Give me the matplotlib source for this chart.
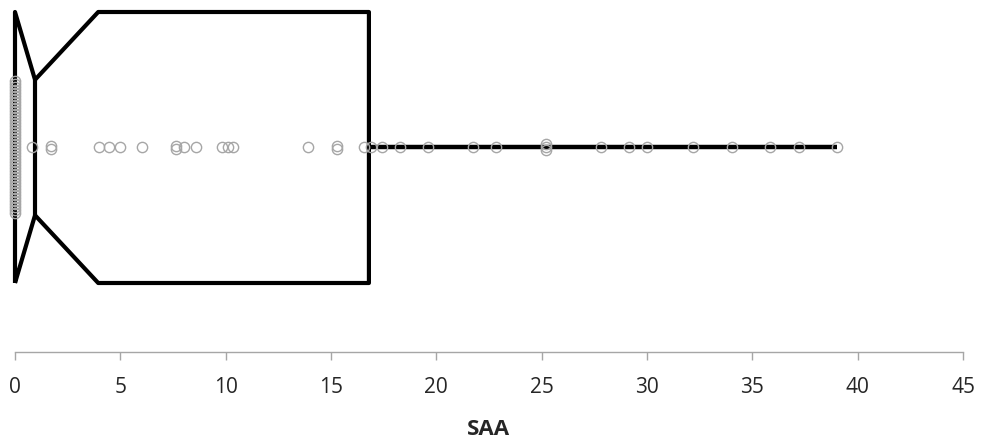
import matplotlib
matplotlib.use("Agg")
import matplotlib.pyplot as plt
import numpy as np

plt.rcParams['font.family'] = ['Open Sans', 'DejaVu Sans']

#   values
zero_count = 45
saa_values = [0.0] * zero_count + [
    0.82, 1.71, 1.71, 3.99, 4.46, 4.98, 6.01, 7.63, 7.63, 8.04, 8.57,
    9.84, 10.12, 10.36, 13.92, 15.3, 15.3, 16.58, 16.9, 17.4, 18.27, 19.6,
    21.75, 22.83, 25.19, 25.19, 25.19, 27.81, 29.16, 29.98, 32.19, 34.04,
    35.86, 37.21, 39.0]

box_stats = {'q1': 0.0, 'med': 0.95, 'q3': 16.8,
             'cilo': 0.0, 'cihi': 3.95,
             'whislo': 0.0, 'whishi': 39.0, 'fliers': []}

x_ticks = [0, 5, 10, 15, 20, 25, 30, 35, 40, 45]
x_label = 'SAA'

#   Figure Setting
fig = plt.figure(figsize=(9.81, 4.41), dpi=100)
ax = fig.add_axes([15 / 981, 89 / 441, 948 / 981, 352 / 441])

box_px = 271.0                      # box height in pixels (widths = 1)
ax.set_ylim(1 - 204.5 / box_px, 1 + 147.5 / box_px)
ax.set_xlim(0, 45)

parts = ax.bxp([box_stats], positions=[1], widths=1, shownotches=True,
               showcaps=False, showfliers=False, orientation='horizontal',
               boxprops=dict(color='black', linewidth=3),
               whiskerprops=dict(color='black', linewidth=3.2),
               medianprops=dict(color='black', linewidth=3))
for key in ('boxes', 'whiskers', 'medians'):
    for art in parts[key]:
        art.set_clip_on(False)
        art.set_solid_capstyle('butt')

#   stack repeated values a little so they stay visible
vals = np.array(saa_values)
step = 3.0 / box_px
ys = np.ones_like(vals)
for v in np.unique(vals):
    idx = np.where(vals == v)[0]
    n = idx.size
    ys[idx] = 1 + (np.arange(n) - (n - 1) / 2.0) * step
ax.plot(vals, ys, linestyle='none', marker='o', markersize=7.4,
        markerfacecolor='none', markeredgecolor='#a6a6a6',
        markeredgewidth=1.0, clip_on=False, zorder=5)

for side in ('left', 'top', 'right'):
    ax.spines[side].set_visible(False)
ax.spines['bottom'].set_color('#a6a6a6')
ax.spines['bottom'].set_linewidth(1.0)
ax.set_yticks([])
ax.set_xticks(x_ticks)
ax.set_xticklabels([str(t) for t in x_ticks])
ax.tick_params(axis='x', direction='out', length=6, width=1.0,
               color='#a6a6a6', labelsize=15, labelcolor='#262626', pad=12)
ax.set_xlabel(x_label, fontsize=16, fontweight='bold', color='#262626',
              labelpad=15)

fig.savefig('out.png', dpi=100)
